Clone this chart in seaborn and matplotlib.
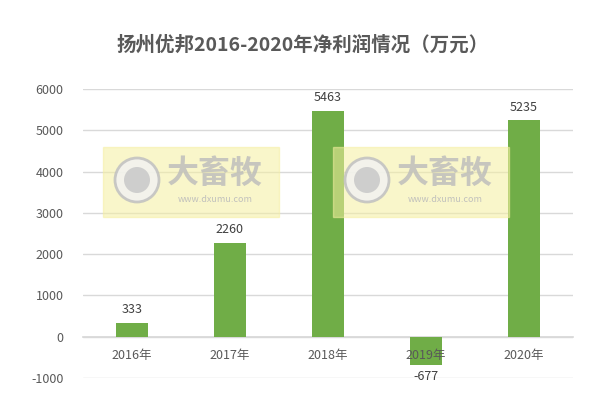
import matplotlib
matplotlib.use('Agg')
import matplotlib.pyplot as plt
import matplotlib.patches as mpatches
import seaborn as sns
import pandas as pd

years = ['2016年', '2017年', '2018年', '2019年', '2020年']
profit = [333, 2260, 5463, -677, 5235]

sns.set_theme(style='white')
plt.rcParams['font.family'] = ['Noto Sans CJK SC', 'DejaVu Sans']
plt.rcParams['axes.unicode_minus'] = False

dane = pd.DataFrame({'year': years, 'profit': profit})

fig = plt.figure(figsize=(6.05, 4.04), dpi=100)
ax = fig.add_axes([0.137, 0.064, 0.81, 0.716])

sns.barplot(x='year', y='profit', data=dane, color='#70AD47', width=0.32,
            saturation=1, linewidth=0, ax=ax, zorder=3)

ax.set_ylim(-1000, 6000)
ax.set_xlim(-0.5, 4.5)
ax.set_yticks(range(-1000, 6001, 1000))
for t in range(-1000, 6001, 1000):
    ax.axhline(t, color='#D9D9D9', linewidth=1, zorder=1)
ax.set_xlabel('')
ax.set_ylabel('')
for s in ['top', 'right', 'left']:
    ax.spines[s].set_visible(False)
ax.spines['bottom'].set_position(('data', 0))
ax.spines['bottom'].set_color('#D9D9D9')
ax.xaxis.set_zorder(5)
ax.tick_params(axis='x', length=0, pad=9, labelsize=9, labelcolor='#595959')
ax.tick_params(axis='y', length=0, pad=14, labelsize=9, labelcolor='#595959')

for i, v in enumerate(profit):
    if v >= 0:
        ax.annotate(str(v), (i, v), xytext=(0, 5), textcoords='offset points',
                    ha='center', va='bottom', fontsize=9, color='#404040')
    else:
        ax.annotate(str(v), (i, v), xytext=(0, -4), textcoords='offset points',
                    ha='center', va='top', fontsize=9, color='#404040')

fig.text(0.5, 0.888, '扬州优邦2016-2020年净利润情况（万元）', ha='center', va='center',
         fontsize=14, fontweight='bold', color='#595959')

# watermark
for x0 in [103, 333]:
    fig.patches.append(mpatches.Rectangle((x0 / 605, 1 - 217 / 404), 176 / 605, 70 / 404,
                                          transform=fig.transFigure, color='#F5EFA0',
                                          alpha=0.55, zorder=5))
    cx, cy = (x0 + 34) / 605, 1 - 180 / 404
    fig.patches.append(mpatches.Ellipse((cx, cy), 44 / 605, 44 / 404,
                                        transform=fig.transFigure, facecolor='#F2F2F2',
                                        edgecolor='#C0C0C0', linewidth=2, alpha=0.85, zorder=6))
    fig.patches.append(mpatches.Ellipse((cx, cy), 26 / 605, 26 / 404,
                                        transform=fig.transFigure, facecolor='#C8C8C8',
                                        edgecolor='none', alpha=0.85, zorder=6))
    fig.text((x0 + 112) / 605, 1 - 174 / 404, '大畜牧', ha='center', va='center',
             fontsize=23, fontweight='bold', color='#BBBBBB', alpha=0.8, zorder=7)
    fig.text((x0 + 112) / 605, 1 - 199 / 404, 'www.dxumu.com', ha='center', va='center',
             fontsize=6.5, color='#BBBBBB', alpha=0.9, zorder=7)

plt.savefig('out.png', dpi=100)
